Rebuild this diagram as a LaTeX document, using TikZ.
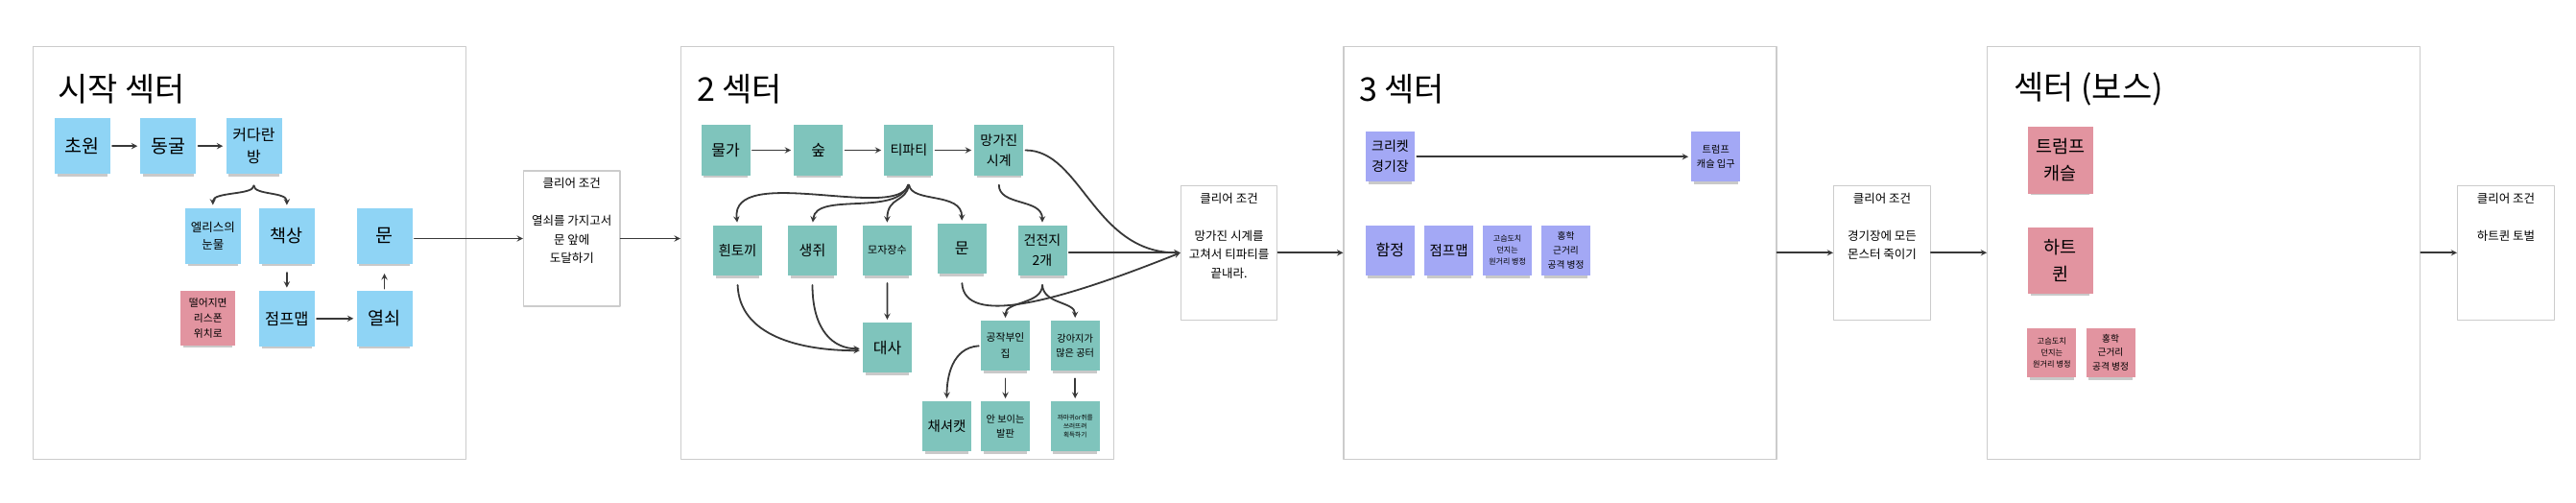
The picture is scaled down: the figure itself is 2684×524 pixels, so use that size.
\documentclass[tikz,border=0pt]{standalone}
\usepackage{fontspec}
\setmainfont{Noto Sans CJK KR}
\usetikzlibrary{positioning,shadows}
\definecolor{stickyblue}{HTML}{8FD4F5}
\definecolor{stickyteal}{HTML}{7FC4BC}
\definecolor{stickypurple}{HTML}{A3A8F5}
\definecolor{stickypink}{HTML}{E294A0}
\definecolor{framegray}{HTML}{CCCCCC}
\definecolor{linegray}{HTML}{383838}
\newcommand{\fsz}[2]{\fontsize{#1}{#2}\selectfont}
\tikzset{
  note/.style={minimum width=51pt, minimum height=52pt, inner sep=0pt, align=center,
    general shadow={fill=black!70, opacity=0.3, shadow yshift=-6pt, shadow scale=0.9}},
  bluenote/.style={note, fill=stickyblue, minimum width=58pt, minimum height=58pt},
  tealnote/.style={note, fill=stickyteal},
  purplenote/.style={note, fill=stickypurple},
  pinknote/.style={note, fill=stickypink},
  sector/.style={draw=framegray, line width=1.2pt, minimum width=451pt, minimum height=430pt},
  clearbox/.style={draw=framegray, line width=1.2pt, minimum width=100.5pt, minimum height=140pt},
  cleartext/.style={align=center, inner sep=2pt, font=\fsz{12.5}{19.5}},
  sectitle/.style={anchor=west, inner sep=0pt, font=\fsz{34}{40}},
  arr/.style={->, line width=1.8pt, draw=linegray, shorten >=3pt, shorten <=2pt},
  link/.style={->, line width=1.8pt, draw=linegray},
}
\begin{document}
\begin{tikzpicture}[x=1pt,y=-1pt,line join=round,line cap=round,>=stealth]
\useasboundingbox (0,0) rectangle (2684,524);
\def\ymid{263.3}
\node[sector] (secA) at (260.2,\ymid) {};
\node[sector] (secB) at (935,\ymid) {};
\node[sector] (secC) at (1625.5,\ymid) {};
\node[sector] (secD) at (2296.2,\ymid) {};
\node[clearbox, minimum height=141pt] (clearA) at (595.8,248.5) {};
\node[clearbox] (clearB) at (1280.6,\ymid) {};
\node[clearbox] (clearC) at (1960.9,\ymid) {};
\node[clearbox] (clearD) at (2610.9,\ymid) {};
\node[cleartext, below=6pt of clearA.north] (clearAtxt) {클리어 조건\\[19.5pt]열쇠를 가지고서\\문 앞에\\도달하기};
\node[cleartext, below=6pt of clearB.north] (clearBtxt) {클리어 조건\\[19.5pt]망가진 시계를\\고쳐서 티파티를\\끝내라.};
\node[cleartext, below=6pt of clearC.north] (clearCtxt) {클리어 조건\\[19.5pt]경기장에 모든\\몬스터 죽이기};
\node[cleartext, below=6pt of clearD.north] (clearDtxt) {클리어 조건\\[19.5pt]하트퀸 토벌};
\node[sectitle] (titleA) at (60,93) {시작 섹터};
\node[sectitle] (titleB) at (726,93) {2 섹터};
\node[sectitle] (titleC) at (1416,93) {3 섹터};
\node[sectitle] (titleD) at (2098,93) {섹터 (보스)};

\node[bluenote, font=\fsz{19.5}{26}] (meadow) at (85.9,152.2) {초원};
\node[bluenote, font=\fsz{19.5}{26}] (cave) at (175.4,152.2) {동굴};
\node[bluenote, font=\fsz{16}{22.5}] (bigroom) at (264.5,152.2) {커다란\\방};
\node[bluenote, font=\fsz{12.5}{18}] (tears) at (221.8,245.8) {엘리스의\\눈물};
\node[bluenote, font=\fsz{18.5}{24}] (desk) at (298.9,245.8) {책상};
\node[bluenote, font=\fsz{19.5}{26}] (doorA) at (400.5,245.8) {문};
\node[pinknote, minimum width=57pt, minimum height=57pt, font=\fsz{10.8}{16}] (respawn) at (216.8,331) {떨어지면\\리스폰\\위치로};
\node[bluenote, font=\fsz{16.5}{22}] (jumpA) at (298.9,331.8) {점프맵};
\node[bluenote, font=\fsz{18.5}{24}] (key) at (400.5,331.8) {열쇠};
\draw[arr] (meadow) -- (cave);
\draw[arr] (cave) -- (bigroom);
\draw[arr] ([yshift=-10pt]bigroom.south) .. controls +(0,12) and +(0,-17) .. (tears.north);
\draw[arr] ([yshift=-10pt]bigroom.south) .. controls +(0,12) and +(0,-17) .. (desk.north);
\draw[arr, shorten <=9pt] (desk) -- (jumpA);
\draw[arr] (jumpA) -- (key);
\draw[arr, shorten >=10pt] (key) -- (doorA);
\draw[arr, shorten >=0pt] (clearA.west -| doorA.east) -- (clearA.west);
\draw[link] (clearA.east) -- (clearA.east -| secB.west);

\node[tealnote, font=\fsz{16}{21}] (river) at (756.1,156.5) {물가};
\node[tealnote, font=\fsz{16}{21}] (forest) at (852.8,156.5) {숲};
\node[tealnote, font=\fsz{14}{21}] (party) at (946.9,156.5) {티파티};
\node[tealnote, font=\fsz{14}{21}] (clock) at (1040.8,156.5) {망가진\\시계};
\node[tealnote, font=\fsz{14.5}{21}] (rabbit) at (768.5,260.8) {흰토끼};
\node[tealnote, font=\fsz{15}{21}] (mouse) at (846.5,260.8) {생쥐};
\node[tealnote, font=\fsz{11}{16}] (hatter) at (924.4,260.8) {모자장수};
\node[tealnote, font=\fsz{16}{21}] (doorB) at (1002.2,258.9) {문};
\node[tealnote, font=\fsz{14}{21}] (battery) at (1086,260.8) {건전지\\2개};
\node[tealnote, font=\fsz{16}{21}] (talk) at (924.5,362.2) {대사};
\node[tealnote, font=\fsz{10.8}{16.7}] (duchess) at (1047.5,360.2) {공작부인\\집};
\node[tealnote, font=\fsz{10.2}{15.7}] (puppy) at (1120.2,360.2) {강아지가\\많은 공터};
\node[tealnote, font=\fsz{14.5}{21}] (cat) at (986.5,444.2) {채셔캣};
\node[tealnote, font=\fsz{10.2}{15.7}] (floor) at (1047.5,444.2) {안 보이는\\발판};
\node[tealnote, font=\fsz{6.6}{9}] (crow) at (1120.2,444.2) {까마귀or쥐를\\쓰러뜨려\\획득하기};
\draw[arr] (river) -- (forest);
\draw[arr] (forest) -- (party);
\draw[arr] (party) -- (clock);
\draw[arr] ([yshift=-8pt]party.south) .. controls +(-12,40) and +(-8,-65) .. (rabbit.north);
\draw[arr] ([yshift=-8pt]party.south) .. controls +(-12,35) and +(4,-35) .. (mouse.north);
\draw[arr] ([yshift=-8pt]party.south) .. controls +(-2,20) and +(0,-30) .. (hatter.north);
\draw[arr] ([yshift=-8pt]party.south) .. controls +(3,21) and +(0,-33) .. (doorB.north);
\draw[arr] ([yshift=-8pt]clock.south) .. controls +(0,24) and +(0,-28) .. (battery.north);
\draw[arr, shorten >=0pt] (clock.east) .. controls +(60,0) and +(-90,0) .. (clearB.west);
\draw[arr, shorten >=0pt] (clearB.west -| battery.east) -- (clearB.west);
\draw[arr, shorten >=0pt] ([yshift=-8pt]doorB.south) .. controls +(3,47) and +(-130,52) .. (clearB.west);
\draw[arr] ([yshift=-8pt]rabbit.south) .. controls +(2,55) and +(-65,0) .. ([yshift=-3pt]talk.west);
\draw[arr] ([yshift=-8pt]mouse.south) .. controls +(0,50) and +(-30,0) .. ([yshift=-1pt]talk.west);
\draw[arr, shorten <=8pt] (hatter) -- (talk);
\draw[arr] ([yshift=-8pt]battery.south) .. controls +(0,22) and +(0,-20) .. (duchess.north);
\draw[arr] ([yshift=-8pt]battery.south) .. controls +(1,22) and +(0,-20) .. (puppy.north);
\draw[arr] (duchess.west) .. controls +(-30,2) and +(0,-25) .. (cat.north);
\draw[arr, shorten <=8pt] (duchess) -- (floor);
\draw[arr, shorten <=8pt] (puppy) -- (crow);
\draw[link] (clearB.east) -- (clearB.east -| secC.west);

\node[purplenote, font=\fsz{14}{21}] (cricket) at (1448.5,163.2) {크리켓\\경기장};
\node[purplenote, font=\fsz{10.2}{15}] (gate) at (1787.8,163.2) {트럼프\\캐슬 입구};
\node[purplenote, font=\fsz{16}{21}] (trap) at (1448.3,260.8) {함정};
\node[purplenote, font=\fsz{14.5}{21}] (jumpC) at (1509.6,260.8) {점프맵};
\node[purplenote, font=\fsz{8}{12}] (hedgehogC) at (1570.6,260.8) {고슴도치\\던지는\\원거리 병정};
\node[purplenote, font=\fsz{9.7}{14.7}] (flamingoC) at (1631.5,260.8) {홍학\\근거리\\공격 병정};
\draw[arr] (cricket) -- (gate);
\draw[link] (secC.east |- clearC.west) -- (clearC.west);
\draw[link] (clearC.east) -- (clearC.east -| secD.west);

\node[pinknote, minimum width=68pt, minimum height=69pt, font=\fsz{18.5}{28}] (castle) at (2146.8,167) {트럼프\\캐슬};
\node[pinknote, minimum width=68pt, minimum height=69pt, font=\fsz{18.5}{28}] (queen) at (2146.8,271.7) {하트\\퀸};
\node[pinknote, minimum height=51pt, font=\fsz{8.2}{12}] (hedgehogD) at (2137.8,367.2) {고슴도치\\던지는\\원거리 병정};
\node[pinknote, minimum height=51pt, font=\fsz{9.7}{14.5}] (flamingoD) at (2199,367.2) {홍학\\근거리\\공격 병정};
\draw[link] (secD.east |- clearD.west) -- (clearD.west);
\end{tikzpicture}
\end{document}
